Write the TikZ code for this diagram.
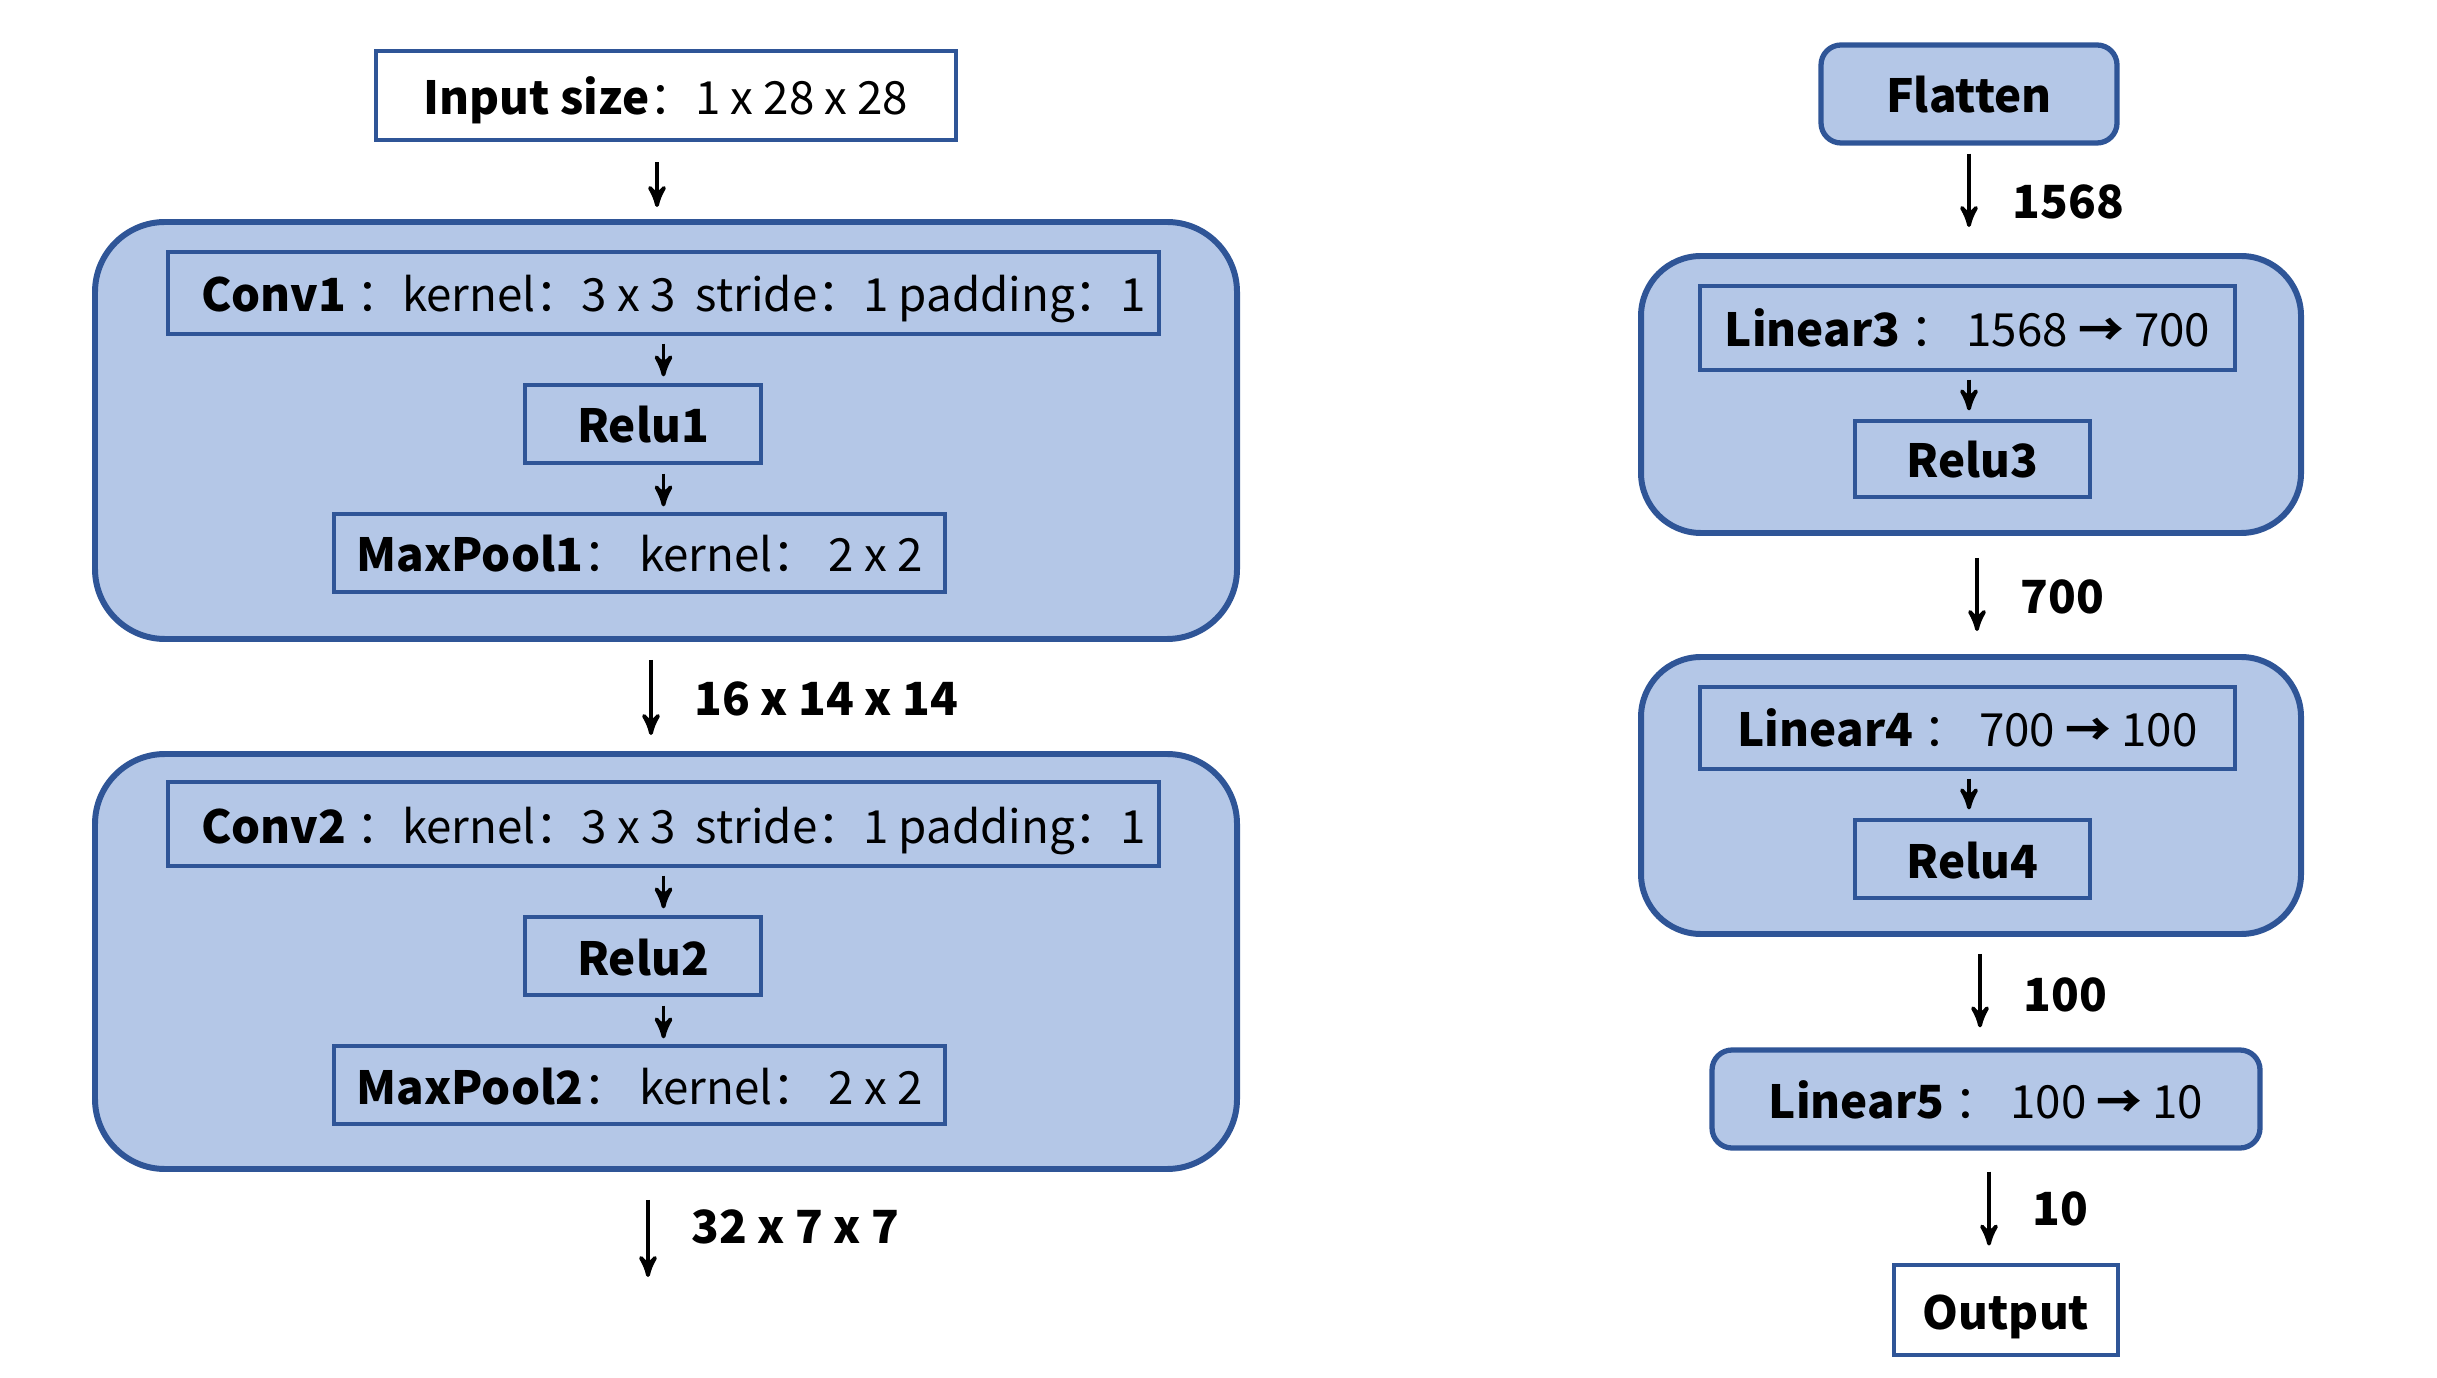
\documentclass[tikz,border=0pt]{standalone}
\usepackage{fontspec}
\setmainfont{Noto Sans CJK SC}
\usepackage{tikz}
\usetikzlibrary{arrows,positioning}
\definecolor{boxblue}{HTML}{B4C7E7}
\definecolor{edgeblue}{HTML}{2F5597}
\tikzset{
    %Define standard arrow tip
    >=stealth',
    %Define style for the big blocks
    block/.style={
           rectangle,
           rounded corners=0.7cm,
           draw=edgeblue, line width=1.7pt,
           fill=boxblue},
    %Define style for the layers inside a block
    layer/.style={
           rectangle,
           draw=edgeblue, line width=0.9pt,
           fill=boxblue,
           inner sep=0pt,
           text height=0.38cm, text depth=0cm,
           font=\fontsize{13}{15}\selectfont,
           text centered},
    smallblock/.style={
           rectangle,
           rounded corners=0.2cm,
           draw=edgeblue, line width=1.5pt,
           fill=boxblue,
           inner sep=0pt,
           text height=0.38cm, text depth=0cm,
           font=\fontsize{13}{15}\selectfont,
           text centered},
    iobox/.style={
           rectangle,
           draw=edgeblue, line width=1.4pt,
           fill=white,
           inner sep=0pt,
           text height=0.38cm, text depth=0cm,
           font=\fontsize{13}{15}\selectfont,
           text centered},
    % Define arrow style
    pil/.style={
           ->,
           line width=1.1pt},
    lbl/.style={
           right=0.3cm,
           text height=0.38cm, text depth=0cm,
           font=\fontsize{13}{15}\selectfont\bfseries}
}

\begin{document}
\begin{tikzpicture}
\useasboundingbox (0,0) rectangle (24.37,-13.78);

 %left column
\node[iobox, minimum width=5.8cm, minimum height=0.89cm] (input) at (6.66,-0.955)
    {\textbf{Input size}：1 x 28 x 28};
\node[block, minimum width=11.42cm, minimum height=4.17cm] (block1) at (6.66,-4.305) {};
\node[layer, minimum width=9.91cm, minimum height=0.82cm] (conv1) at (6.635,-2.93)
    {\hspace*{0.2cm}\textbf{Conv1} ：kernel：3 x 3\ \ stride：1 padding：1};
\node[layer, minimum width=2.36cm, minimum height=0.78cm] (relu1) at (6.43,-4.24) {\textbf{Relu1}};
\node[layer, minimum width=6.11cm, minimum height=0.78cm] (maxpool1) at (6.395,-5.53)
    {\textbf{MaxPool1}：\ kernel：\ 2 x 2};

\node[block, minimum width=11.42cm, minimum height=4.15cm] (block2) at (6.66,-9.615) {};
\node[layer, minimum width=9.91cm, minimum height=0.84cm] (conv2) at (6.635,-8.24)
    {\hspace*{0.2cm}\textbf{Conv2} ：kernel：3 x 3\ \ stride：1 padding：1};
\node[layer, minimum width=2.36cm, minimum height=0.78cm] (relu2) at (6.43,-9.56) {\textbf{Relu2}};
\node[layer, minimum width=6.11cm, minimum height=0.78cm] (maxpool2) at (6.395,-10.85)
    {\textbf{MaxPool2}：\ kernel：\ 2 x 2};
\coordinate (out1) at (6.48,-12.77);

 %right column
\node[smallblock, minimum width=2.96cm, minimum height=0.98cm] (flatten) at (19.69,-0.94) {\textbf{Flatten}};
\node[block, rounded corners=0.6cm, minimum width=6.6cm, minimum height=2.77cm] (block3) at (19.71,-3.945) {};
\node[layer, minimum width=5.35cm, minimum height=0.84cm] (linear3) at (19.675,-3.28)
    {\textbf{Linear3} ：\ 1568 \textbf{→} 700};
\node[layer, minimum width=2.35cm, minimum height=0.76cm] (relu3) at (19.725,-4.59) {\textbf{Relu3}};

\node[block, rounded corners=0.6cm, minimum width=6.6cm, minimum height=2.77cm] (block4) at (19.71,-7.955) {};
\node[layer, minimum width=5.35cm, minimum height=0.82cm] (linear4) at (19.675,-7.28)
    {\textbf{Linear4} ：\ 700 \textbf{→} 100};
\node[layer, minimum width=2.35cm, minimum height=0.78cm] (relu4) at (19.725,-8.59) {\textbf{Relu4}};

\node[smallblock, minimum width=5.48cm, minimum height=0.98cm] (linear5) at (19.86,-10.99)
    {\textbf{Linear5} ：\ 100 \textbf{→} 10};
\node[iobox, minimum width=2.24cm, minimum height=0.9cm] (output) at (20.06,-13.10) {\textbf{Output}};

 %arrows
\draw[pil, shorten <=0.2cm, shorten >=0.12cm] ([xshift=-0.09cm]input.south) -- ([xshift=-0.09cm]block1.north);
\draw[pil, shorten <=0.08cm, shorten >=0.07cm] (conv1.south) -- (conv1.south |- relu1.north);
\draw[pil, shorten <=0.09cm, shorten >=0.06cm] (conv1.south |- relu1.south) -- (conv1.south |- maxpool1.north);
\draw[pil, shorten <=0.18cm, shorten >=0.16cm] ([xshift=-0.15cm]block1.south) -- ([xshift=-0.15cm]block2.north)
    node[lbl, midway] (l1) {16 x 14 x 14};
\draw[pil, shorten <=0.08cm, shorten >=0.07cm] (conv2.south) -- (conv2.south |- relu2.north);
\draw[pil, shorten <=0.09cm, shorten >=0.06cm] (conv2.south |- relu2.south) -- (conv2.south |- maxpool2.north);
\draw[pil, shorten <=0.28cm] (block2.south -| out1) -- (out1)
    node[lbl, midway] (l2) {32 x 7 x 7};

\draw[pil, shorten <=0.08cm, shorten >=0.26cm] (flatten.south) -- (flatten.south |- block3.north)
    node[lbl, midway] (l3) {1568};
\draw[pil, shorten <=0.08cm, shorten >=0.09cm] (linear3.south -| flatten) -- (relu3.north -| flatten);
\draw[pil, shorten <=0.22cm, shorten >=0.23cm] ([xshift=0.06cm]block3.south) -- ([xshift=0.06cm]block4.north)
    node[lbl, midway] (l4) {700};
\draw[pil, shorten <=0.08cm, shorten >=0.09cm] (linear4.south -| flatten) -- (relu4.north -| flatten);
\draw[pil, shorten <=0.17cm, shorten >=0.2cm] ([xshift=0.09cm]block4.south) -- ([xshift=0.09cm]block4.south |- linear5.north)
    node[lbl, midway] (l5) {100};
\draw[pil, shorten <=0.21cm, shorten >=0.17cm] ([xshift=0.03cm]linear5.south) -- ([xshift=0.03cm]linear5.south |- output.north)
    node[lbl, midway] (l6) {10};

\end{tikzpicture}
\end{document}
